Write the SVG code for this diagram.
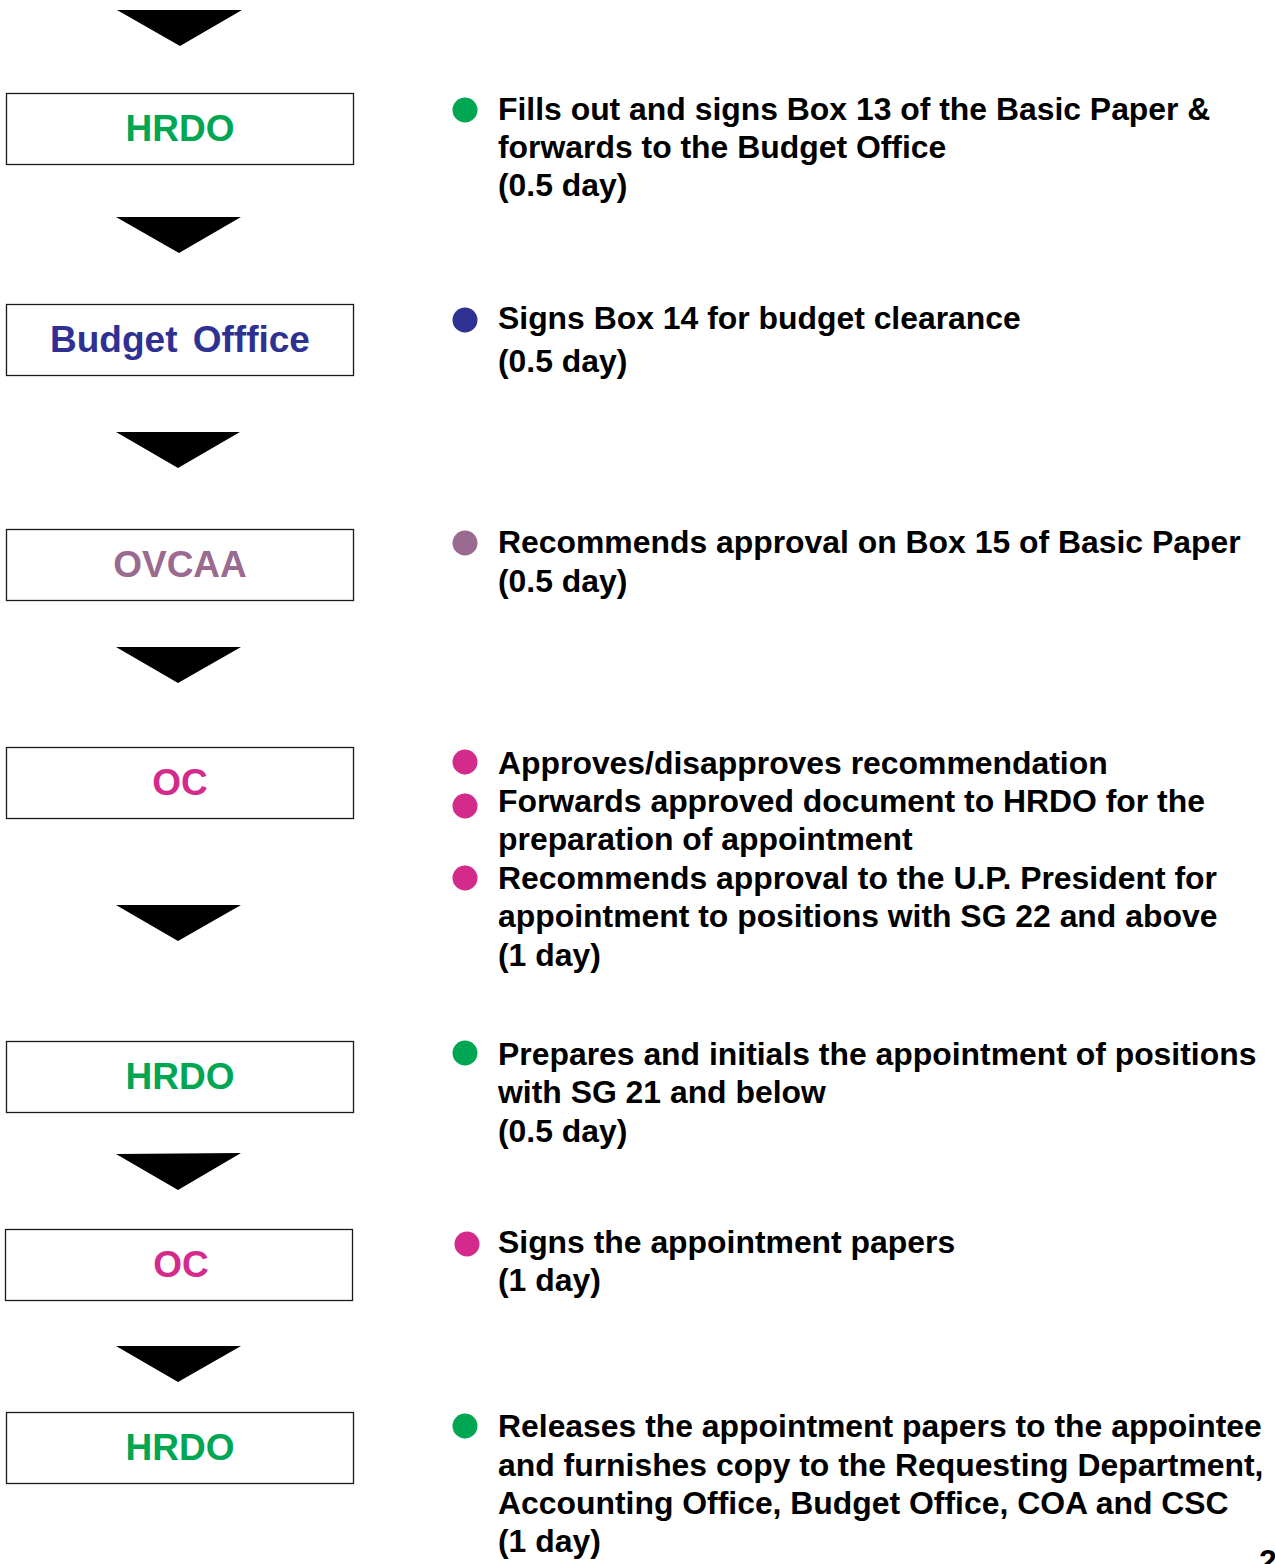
<svg xmlns="http://www.w3.org/2000/svg" width="1275" height="1564" viewBox="0 0 1275 1564">
  <style>
    .box { fill: #ffffff; stroke: #1a1a1a; stroke-width: 1.3; }
    .lbl { font-family: "Liberation Sans", Arial, sans-serif; font-weight: bold; font-size: 37px; text-anchor: middle; }
    .txt { font-family: "Liberation Sans", Arial, sans-serif; font-weight: bold; font-size: 31.9px; fill: #000000; }
    .arrow { fill: #000000; }
    .green { fill: #00A651; }
    .blue { fill: #2E3192; }
    .mauve { fill: #9B6A91; }
    .pink { fill: #D42A8C; }
  </style>
  <rect width="1275" height="1564" fill="#ffffff"/>

  <!-- flow arrows between offices -->
  <g id="connectors">
    <polygon class="arrow" points="117,10 242,10 180,46"/>
    <polygon class="arrow" points="116,217 241,217 179,253"/>
    <polygon class="arrow" points="116,432 240,432 178,468"/>
    <polygon class="arrow" points="116,647 241,647 178,683"/>
    <polygon class="arrow" points="116,905 241,905 178,941"/>
    <polygon class="arrow" points="116,1154 241,1153 178,1190"/>
    <polygon class="arrow" points="116,1346 241,1346 178,1382"/>
  </g>

  <!-- office boxes -->
  <g id="hrdo-1">
    <rect class="box" x="6.5" y="93.5" width="347" height="71"/>
    <text class="lbl green" x="180" y="141">HRDO</text>
  </g>
  <g id="budget-office">
    <rect class="box" x="6.5" y="304.5" width="347" height="71"/>
    <text class="lbl blue" x="180" y="352" word-spacing="5">Budget Offfice</text>
  </g>
  <g id="ovcaa">
    <rect class="box" x="6.5" y="529.5" width="347" height="71"/>
    <text class="lbl mauve" x="180" y="577">OVCAA</text>
  </g>
  <g id="oc-1">
    <rect class="box" x="6.5" y="747.5" width="347" height="71"/>
    <text class="lbl pink" x="180" y="795">OC</text>
  </g>
  <g id="hrdo-2">
    <rect class="box" x="6.5" y="1041.5" width="347" height="71"/>
    <text class="lbl green" x="180" y="1089">HRDO</text>
  </g>
  <g id="oc-2">
    <rect class="box" x="5.5" y="1229.5" width="347" height="71"/>
    <text class="lbl pink" x="181" y="1277">OC</text>
  </g>
  <g id="hrdo-3">
    <rect class="box" x="6.5" y="1412.5" width="347" height="71"/>
    <text class="lbl green" x="180" y="1460">HRDO</text>
  </g>

  <!-- step descriptions -->
  <g id="step-hrdo-1">
    <circle class="green" cx="465" cy="110" r="12.5"/>
    <text class="txt" x="498" y="120">Fills out and signs Box 13 of the Basic Paper &amp;</text>
    <text class="txt" x="498" y="158">forwards to the Budget Office</text>
    <text class="txt" x="498" y="196">(0.5 day)</text>
  </g>
  <g id="step-budget">
    <circle class="blue" cx="465" cy="320" r="12.5"/>
    <text class="txt" x="498" y="329">Signs Box 14 for budget clearance</text>
    <text class="txt" x="498" y="372">(0.5 day)</text>
  </g>
  <g id="step-ovcaa">
    <circle class="mauve" cx="465" cy="543" r="12.5"/>
    <text class="txt" x="498" y="553">Recommends approval on Box 15 of Basic Paper</text>
    <text class="txt" x="498" y="592">(0.5 day)</text>
  </g>
  <g id="step-oc-1">
    <circle class="pink" cx="465" cy="762" r="12.5"/>
    <text class="txt" x="498" y="774">Approves/disapproves recommendation</text>
    <circle class="pink" cx="465" cy="806" r="12.5"/>
    <text class="txt" x="498" y="812">Forwards approved document to HRDO for the</text>
    <text class="txt" x="498" y="850">preparation of appointment</text>
    <circle class="pink" cx="465" cy="878" r="12.5"/>
    <text class="txt" x="498" y="889">Recommends approval to the U.P. President for</text>
    <text class="txt" x="498" y="927">appointment to positions with SG 22 and above</text>
    <text class="txt" x="498" y="966">(1 day)</text>
  </g>
  <g id="step-hrdo-2">
    <circle class="green" cx="465" cy="1053" r="12.5"/>
    <text class="txt" x="498" y="1065">Prepares and initials the appointment of positions</text>
    <text class="txt" x="498" y="1103">with SG 21 and below</text>
    <text class="txt" x="498" y="1142">(0.5 day)</text>
  </g>
  <g id="step-oc-2">
    <circle class="pink" cx="467" cy="1244" r="12.5"/>
    <text class="txt" x="498" y="1253">Signs the appointment papers</text>
    <text class="txt" x="498" y="1291">(1 day)</text>
  </g>
  <g id="step-hrdo-3">
    <circle class="green" cx="465" cy="1426" r="12.5"/>
    <text class="txt" x="498" y="1437">Releases the appointment papers to the appointee</text>
    <text class="txt" x="498" y="1476">and furnishes copy to the Requesting Department,</text>
    <text class="txt" x="498" y="1514">Accounting Office, Budget Office, COA and CSC</text>
    <text class="txt" x="498" y="1552">(1 day)</text>
  </g>

  <!-- page number, running off the bottom edge -->
  <text class="txt" x="1259" y="1572">2</text>
</svg>
